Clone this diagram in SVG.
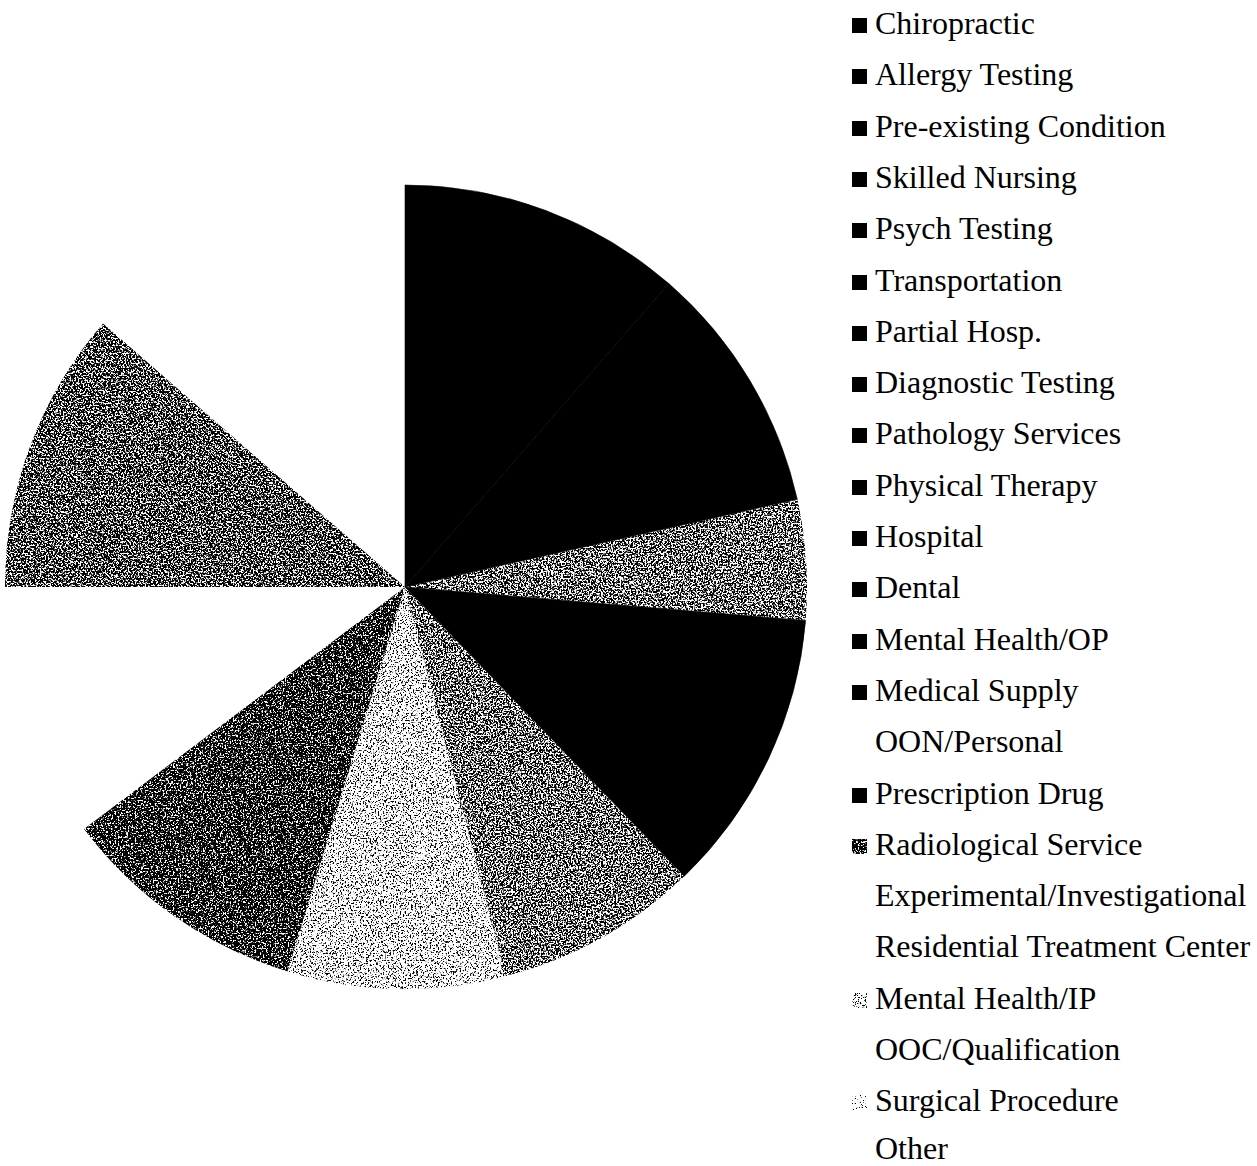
<svg xmlns="http://www.w3.org/2000/svg" width="1257" height="1166" viewBox="0 0 1257 1166">
<style>
.lbl{font-family:"Liberation Serif","Times New Roman",serif;font-size:32px;fill:#000}
.sq{fill:#000}
.solid{fill:#000;stroke:#000;stroke-width:0.6;stroke-linejoin:round}
.tex{fill:#000}
</style>
<defs>
<filter id="fDark" x="0" y="0" width="1" height="1" color-interpolation-filters="sRGB">
<feTurbulence type="fractalNoise" baseFrequency="0.6" numOctaves="3" seed="2"/>
<feColorMatrix type="matrix" values="0 0 0 0 0 0 0 0 0 0 0 0 0 0 0 1 0 0 0 0"/>
<feComponentTransfer><feFuncA type="linear" slope="10" intercept="-3.6"/></feComponentTransfer>
<feComposite operator="in" in2="SourceGraphic"/>
</filter>
<filter id="fMidDark" x="0" y="0" width="1" height="1" color-interpolation-filters="sRGB">
<feTurbulence type="fractalNoise" baseFrequency="0.6" numOctaves="3" seed="7"/>
<feColorMatrix type="matrix" values="0 0 0 0 0 0 0 0 0 0 0 0 0 0 0 1 0 0 0 0"/>
<feComponentTransfer><feFuncA type="linear" slope="10" intercept="-4.1"/></feComponentTransfer>
<feComposite operator="in" in2="SourceGraphic"/>
</filter>
<filter id="fMid" x="0" y="0" width="1" height="1" color-interpolation-filters="sRGB">
<feTurbulence type="fractalNoise" baseFrequency="0.6" numOctaves="3" seed="5"/>
<feColorMatrix type="matrix" values="0 0 0 0 0 0 0 0 0 0 0 0 0 0 0 1 0 0 0 0"/>
<feComponentTransfer><feFuncA type="linear" slope="10" intercept="-4.4"/></feComponentTransfer>
<feComposite operator="in" in2="SourceGraphic"/>
</filter>
<filter id="fLight" x="0" y="0" width="1" height="1" color-interpolation-filters="sRGB">
<feTurbulence type="fractalNoise" baseFrequency="0.6" numOctaves="3" seed="9"/>
<feColorMatrix type="matrix" values="0 0 0 0 0 0 0 0 0 0 0 0 0 0 0 1 0 0 0 0"/>
<feComponentTransfer><feFuncA type="linear" slope="10" intercept="-5.5"/></feComponentTransfer>
<feComposite operator="in" in2="SourceGraphic"/>
</filter>
<filter id="fFaint" x="0" y="0" width="1" height="1" color-interpolation-filters="sRGB">
<feTurbulence type="fractalNoise" baseFrequency="0.6" numOctaves="3" seed="4"/>
<feColorMatrix type="matrix" values="0 0 0 0 0 0 0 0 0 0 0 0 0 0 0 1 0 0 0 0"/>
<feComponentTransfer><feFuncA type="linear" slope="10" intercept="-6.3"/></feComponentTransfer>
<feComposite operator="in" in2="SourceGraphic"/>
</filter>
</defs>
<rect width="1257" height="1166" fill="#fff"/>
<g id="pie">
<g id="slice-1"><path class="solid" d="M405,587 L405,185 A402,402 0 0 1 668.8,283.6 Z"/></g>
<g id="slice-2"><path class="solid" d="M405,587 L668.8,283.6 A402,402 0 0 1 797.3,499.3 Z"/></g>
<g id="slice-3"><path class="tex" filter="url(#fMid)" d="M405,587 L797.3,499.3 A402,402 0 0 1 805.6,620.6 Z"/></g>
<g id="slice-4"><path class="solid" d="M405,587 L805.6,620.6 A402,402 0 0 1 684.3,876.2 Z"/></g>
<g id="slice-5"><path class="tex" filter="url(#fMid)" d="M405,587 L684.3,876.2 A402,402 0 0 1 505.7,976.2 Z"/></g>
<g id="slice-6"><path class="tex" filter="url(#fLight)" d="M405,587 L505.7,976.2 A402,402 0 0 1 287.5,971.4 Z"/></g>
<g id="slice-7"><path class="tex" filter="url(#fDark)" d="M405,587 L287.5,971.4 A402,402 0 0 1 84,828.9 Z"/></g>
<g id="slice-8"><path class="tex" filter="url(#fMidDark)" d="M405,587 L5,587 A400,400 0 0 1 103,323.5 Z"/></g>
</g>
<g id="legend">
<g id="lg-chiropractic"><rect class="sq" x="852" y="18" width="15" height="15"/><text class="lbl" x="875" y="34">Chiropractic</text></g>
<g id="lg-allergy"><rect class="sq" x="852" y="69" width="15" height="15"/><text class="lbl" x="875" y="85">Allergy Testing</text></g>
<g id="lg-preexisting"><rect class="sq" x="852" y="121" width="15" height="15"/><text class="lbl" x="875" y="137">Pre-existing Condition</text></g>
<g id="lg-skilled"><rect class="sq" x="852" y="172" width="15" height="15"/><text class="lbl" x="875" y="188">Skilled Nursing</text></g>
<g id="lg-psych"><rect class="sq" x="852" y="223" width="15" height="15"/><text class="lbl" x="875" y="239">Psych Testing</text></g>
<g id="lg-transport"><rect class="sq" x="852" y="275" width="15" height="15"/><text class="lbl" x="875" y="291">Transportation</text></g>
<g id="lg-partial"><rect class="sq" x="852" y="326" width="15" height="15"/><text class="lbl" x="875" y="342">Partial Hosp.</text></g>
<g id="lg-diagnostic"><rect class="sq" x="852" y="377" width="15" height="15"/><text class="lbl" x="875" y="393">Diagnostic Testing</text></g>
<g id="lg-pathology"><rect class="sq" x="852" y="428" width="15" height="15"/><text class="lbl" x="875" y="444">Pathology Services</text></g>
<g id="lg-physical"><rect class="sq" x="852" y="480" width="15" height="15"/><text class="lbl" x="875" y="496">Physical Therapy</text></g>
<g id="lg-hospital"><rect class="sq" x="852" y="531" width="15" height="15"/><text class="lbl" x="875" y="547">Hospital</text></g>
<g id="lg-dental"><rect class="sq" x="852" y="582" width="15" height="15"/><text class="lbl" x="875" y="598">Dental</text></g>
<g id="lg-mhop"><rect class="sq" x="852" y="634" width="15" height="15"/><text class="lbl" x="875" y="650">Mental Health/OP</text></g>
<g id="lg-medsupply"><rect class="sq" x="852" y="685" width="15" height="15"/><text class="lbl" x="875" y="701">Medical Supply</text></g>
<g id="lg-oon"><text class="lbl" x="875" y="752">OON/Personal</text></g>
<g id="lg-rx"><rect class="sq" x="852" y="788" width="15" height="15"/><text class="lbl" x="875" y="804">Prescription Drug</text></g>
<g id="lg-radiology"><rect class="tex" filter="url(#fDark)" x="852" y="839" width="15" height="15"/><text class="lbl" x="875" y="855">Radiological Service</text></g>
<g id="lg-experimental"><text class="lbl" x="875" y="906">Experimental/Investigational</text></g>
<g id="lg-rtc"><text class="lbl" x="875" y="957">Residential Treatment Center</text></g>
<g id="lg-mhip"><rect class="tex" filter="url(#fLight)" x="852" y="993" width="15" height="15"/><text class="lbl" x="875" y="1009">Mental Health/IP</text></g>
<g id="lg-ooc"><text class="lbl" x="875" y="1060">OOC/Qualification</text></g>
<g id="lg-surgical"><rect class="tex" filter="url(#fFaint)" x="852" y="1095" width="15" height="15"/><text class="lbl" x="875" y="1111">Surgical Procedure</text></g>
<g id="lg-other"><text class="lbl" x="875" y="1159">Other</text></g>
</g>
</svg>
